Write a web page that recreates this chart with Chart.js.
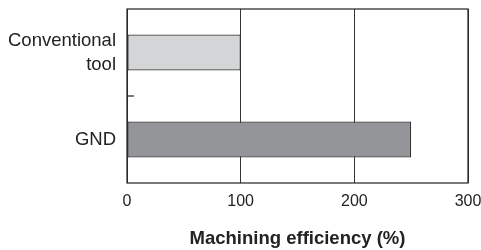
<!DOCTYPE html>
<html>
<head>
<meta charset="utf-8">
<script src="https://cdn.jsdelivr.net/npm/chart.js@4"></script>
<style>
  html, body { margin: 0; padding: 0; background: #fff; }
  #wrap { width: 481px; height: 250px; }
</style>
</head>
<body>
<div id="wrap"><canvas id="Chart" width="481" height="250"></canvas></div>
<script>
// data
const tools = [['Conventional', 'tool'], 'GND'];
const efficiency = [100, 250];
const barColors = ['#d4d5d7', '#949598'];
const xTicks = [0, 100, 200, 300];

/* frame around the plot and the little inner tick between categories */
const framePlugin = {
    id: 'frame',
    afterDatasetsDraw(chart) {
        const ctx = chart.ctx;
        const a = chart.chartArea;
        const y = chart.scales.y;
        ctx.save();
        ctx.strokeStyle = '#222';
        ctx.lineWidth = 1.2;
        ctx.strokeRect(a.left, a.top, a.right - a.left, a.bottom - a.top);
        for (let i = 0; i < tools.length - 1; i++) {
            const mid = (y.getPixelForValue(i) + y.getPixelForValue(i + 1)) / 2;
            ctx.beginPath();
            ctx.moveTo(a.left, mid);
            ctx.lineTo(a.left + 7, mid);
            ctx.stroke();
        }
        ctx.restore();
    }
};

const ctx = document.getElementById('Chart').getContext('2d');
const myChart = new Chart(ctx, {
    type: 'bar',
    data: {
        labels: tools,
        datasets: [{
            data: efficiency,
            backgroundColor: barColors,
            borderColor: '#333',
            borderWidth: 1.2,
            borderSkipped: false,
            barPercentage: 0.414,
            categoryPercentage: 1
        }]
    },
    options: {
        indexAxis: 'y',
        responsive: false,
        animation: false,
        devicePixelRatio: 1,
        layout: { padding: { top: 9, right: 13, left: 0, bottom: 0 } },
        plugins: {
            legend: { display: false },
            tooltip: { enabled: false }
        },
        scales: {
            x: {
                min: 0,
                max: 300,
                afterBuildTicks: (s) => { s.ticks = xTicks.map(v => ({ value: v })); },
                afterFit: (s) => { s.height = 67; s.paddingLeft = 0; s.paddingRight = 0; },
                grid: { color: '#333', lineWidth: 1, drawTicks: false },
                border: { display: false },
                ticks: {
                    padding: 9,
                    color: '#222',
                    font: { family: 'Liberation Sans', size: 16 }
                },
                title: {
                    display: true,
                    text: 'Machining efficiency (%)',
                    color: '#222',
                    padding: { top: 14, bottom: 0 },
                    font: { family: 'Liberation Sans', size: 18.5, weight: 'bold' }
                }
            },
            y: {
                afterFit: (s) => { s.width = 127; s.paddingTop = 0; s.paddingBottom = 0; },
                grid: { display: false, drawTicks: false },
                border: { display: false },
                ticks: {
                    padding: 11,
                    color: '#222',
                    font: { family: 'Liberation Sans', size: 18.5, lineHeight: 1.3 }
                }
            }
        }
    },
    plugins: [framePlugin]
});
</script>
</body>
</html>
